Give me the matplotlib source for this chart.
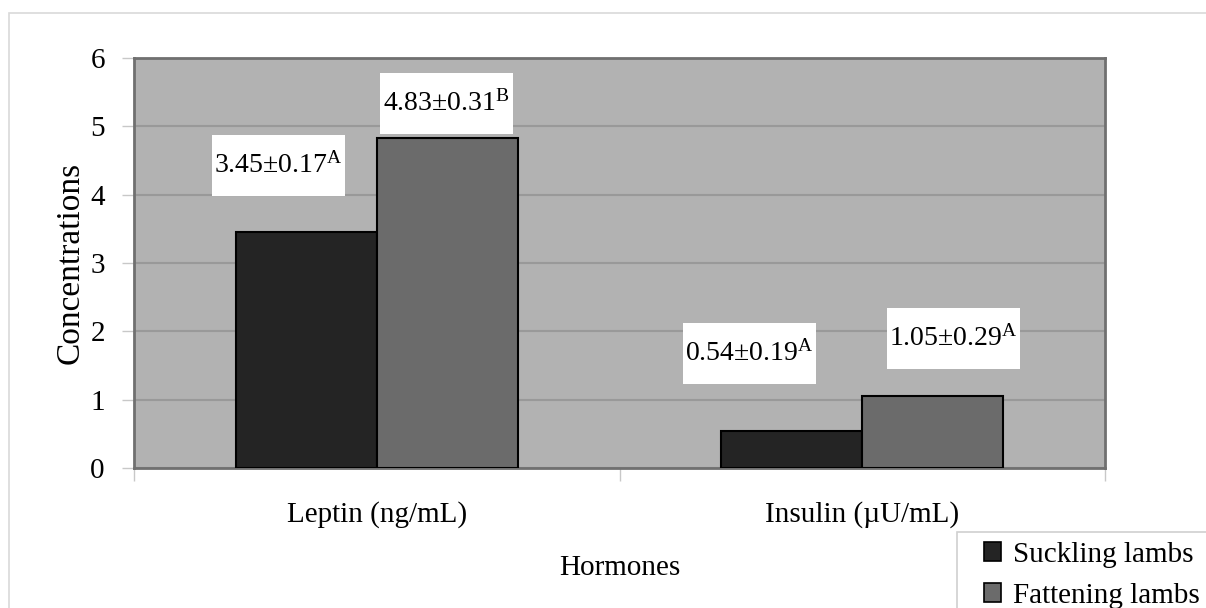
import matplotlib
matplotlib.use("Agg")
import matplotlib.pyplot as plt
import numpy as np
from matplotlib.patches import Rectangle

plt.rcParams['font.family'] = ['Liberation Serif', 'DejaVu Serif']
plt.rcParams['mathtext.fontset'] = 'custom'
plt.rcParams['mathtext.rm'] = 'Liberation Serif'
plt.rcParams['mathtext.it'] = 'Liberation Serif:italic'

categories = ['Leptin (ng/mL)', 'Insulin (\u00b5U/mL)']
series_names = ['Suckling lambs', 'Fattening lambs']
suckling = [3.45, 0.54]
fattening = [4.83, 1.05]
suckling_sem = [0.17, 0.19]
fattening_sem = [0.31, 0.29]
suckling_letters = ['A', 'A']
fattening_letters = ['B', 'A']
yticks = [0, 1, 2, 3, 4, 5, 6]

# label box centres (data coords): x offset from category centre, y
label_pos_suck = [(-0.203, 4.43), (-0.233, 1.68)]
label_pos_fat = [(0.143, 5.33), (0.187, 1.89)]

FS = 21

fig = plt.figure(figsize=(12.06, 6.08), dpi=100)
# outer chart border
fig.patches.append(Rectangle((9/1206, -0.05), 1.2, (608-13)/608 + 0.05, transform=fig.transFigure,
                             fill=False, edgecolor='#d9d9d9', linewidth=1.2))
# legend frame (extends past the figure edge)
fig.patches.append(Rectangle((957/1206, -0.05), 1.2, (608-532)/608 + 0.05, transform=fig.transFigure,
                             fill=False, edgecolor='#d0d0d0', linewidth=1.2))

ax = fig.add_axes([134/1206, (608-468)/608, (1105-134)/1206, (468-58)/608])
ax.set_facecolor('#b2b2b2')
x = np.arange(len(categories))
w = 0.29
ax.bar(x - w/2, suckling, w, color='#242424', edgecolor='black', linewidth=1.5, label=series_names[0], zorder=3)
ax.bar(x + w/2, fattening, w, color='#6b6b6b', edgecolor='black', linewidth=1.5, label=series_names[1], zorder=3)

ax.set_xlim(-0.5, 1.5)
ax.set_ylim(0, 6)
ax.set_yticks(yticks)
ax.yaxis.grid(True, color='#999999', linewidth=1.5, zorder=1)
ax.set_axisbelow(True)
ax.set_xticks([-0.5, 0.5, 1.5])
ax.set_xticklabels([])
ax.set_xticks(x, minor=True)
ax.set_xticklabels(categories, minor=True)
ax.tick_params(axis='x', which='minor', length=0, pad=24, labelsize=FS)
ax.tick_params(axis='x', which='major', length=9, color='#c8c8c8', width=1)
ax.tick_params(axis='y', length=9, color='#c8c8c8', width=1, labelsize=FS, pad=12)
for s in ax.spines.values():
    s.set_color('#707070')
    s.set_linewidth(2)

ax.set_ylabel('Concentrations', fontsize=24, labelpad=3)
ax.set_xlabel('Hormones', fontsize=FS, labelpad=19)

bw, bh = 0.274, 0.893
for i in range(len(categories)):
    for (dx, yy), val, sem, let in [(label_pos_suck[i], suckling[i], suckling_sem[i], suckling_letters[i]),
                                    (label_pos_fat[i], fattening[i], fattening_sem[i], fattening_letters[i])]:
        cx = x[i] + dx
        ax.add_patch(Rectangle((cx - bw/2, yy - bh/2), bw, bh, facecolor='white', edgecolor='none', zorder=5))
        ax.text(cx, yy, f'{val:.2f}\u00b1{sem:.2f}$^{{\\mathrm{{{let}}}}}$',
                ha='center', va='center', fontsize=20, zorder=6)

leg = fig.legend(loc='upper left', bbox_to_anchor=(984/1206, (608-542)/608), fontsize=FS,
                 frameon=False, handlelength=0.6, handleheight=0.6,
                 handletextpad=0.4, borderpad=0.0, labelspacing=0.5, borderaxespad=0)
for h in leg.legend_handles:
    h.set_edgecolor('black')
    h.set_linewidth(1.2)

fig.savefig('out.png', dpi=100)
